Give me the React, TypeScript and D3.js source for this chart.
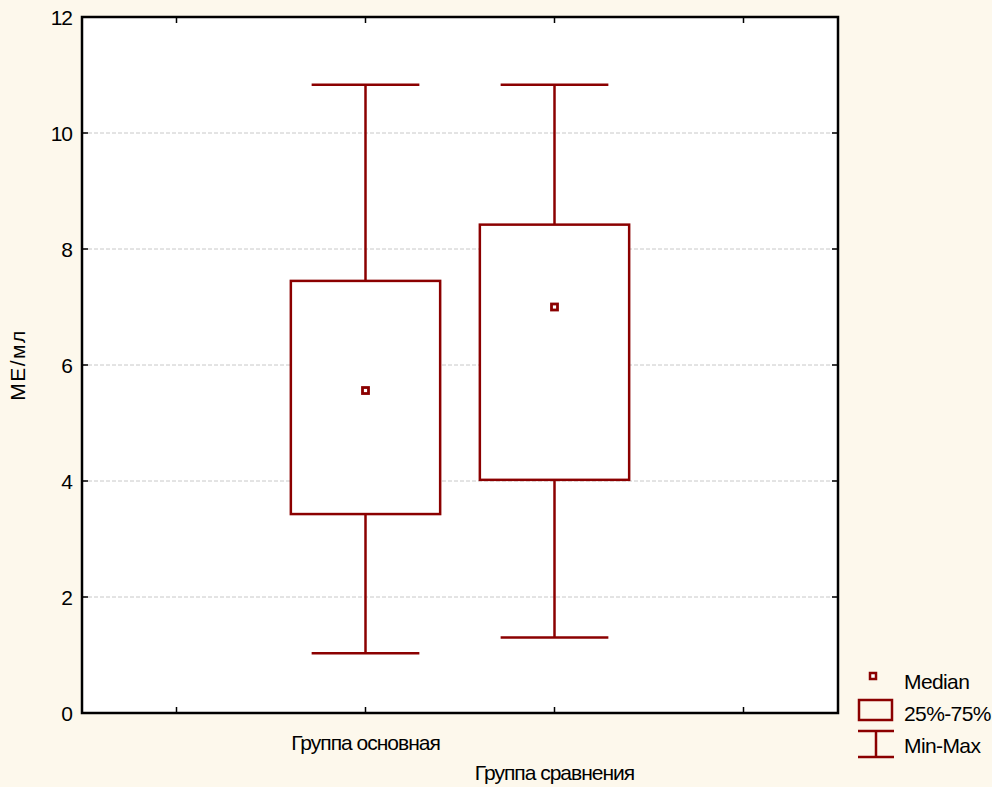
import React, { useEffect, useRef } from "react";
import * as d3 from "d3";

const groups = ["", "Группа основная", "Группа сравнения", ""];
const boxGroups = ["Группа основная", "Группа сравнения"];
const mins = [1.03, 1.3];
const q1s = [3.43, 4.02];
const medians = [5.56, 7.0];
const q3s = [7.45, 8.42];
const maxs = [10.83, 10.83];
const yTicks = [0, 2, 4, 6, 8, 10, 12];
const legendLabels = ["Median", "25%-75%", "Min-Max"];

const W = 992;
const H = 787;
const margin = { top: 17, left: 82, right: 154, bottom: 74 };
const RED = "#8b0000";
const FONT = "'Liberation Sans', Arial, sans-serif";

function BoxChart() {
  const ref = useRef<SVGSVGElement>(null);

  useEffect(() => {
    const svg = d3.select(ref.current);
    svg.selectAll("*").remove();

    const x = d3
      .scaleBand()
      .domain(groups.map((g, i) => i + ""))
      .range([margin.left, W - margin.right]);
    const y = d3
      .scaleLinear()
      .domain([0, 12])
      .range([H - margin.bottom, margin.top]);

    svg.append("rect").attr("width", W).attr("height", H).attr("fill", "#fdf8ec");
    svg
      .append("rect")
      .attr("x", margin.left)
      .attr("y", margin.top)
      .attr("width", W - margin.left - margin.right)
      .attr("height", H - margin.top - margin.bottom)
      .attr("fill", "#fff");

    // grid
    svg
      .append("g")
      .selectAll("line")
      .data(yTicks.slice(1, -1))
      .join("line")
      .attr("x1", margin.left)
      .attr("x2", W - margin.right)
      .attr("y1", (d) => y(d))
      .attr("y2", (d) => y(d))
      .attr("stroke", "#c8c8c8")
      .attr("stroke-dasharray", "4,2")
      .attr("stroke-width", 1);

    const cx = (i: number) => x(i + 1 + "")! + x.bandwidth() / 2;
    const boxW = x.bandwidth() * 0.79;
    const capW = x.bandwidth() * 0.57;

    const g = svg.append("g").attr("stroke", RED).attr("stroke-width", 2.5).attr("fill", "none");
    boxGroups.forEach((name, i) => {
      const c = cx(i);
      g.append("line").attr("x1", c).attr("x2", c).attr("y1", y(maxs[i])).attr("y2", y(q3s[i]));
      g.append("line").attr("x1", c).attr("x2", c).attr("y1", y(q1s[i])).attr("y2", y(mins[i]));
      g.append("line").attr("x1", c - capW / 2).attr("x2", c + capW / 2).attr("y1", y(maxs[i])).attr("y2", y(maxs[i]));
      g.append("line").attr("x1", c - capW / 2).attr("x2", c + capW / 2).attr("y1", y(mins[i])).attr("y2", y(mins[i]));
      g.append("rect")
        .attr("x", c - boxW / 2)
        .attr("y", y(q3s[i]))
        .attr("width", boxW)
        .attr("height", y(q1s[i]) - y(q3s[i]))
        .attr("fill", "#fff");
      g.append("rect")
        .attr("x", c - 3)
        .attr("y", y(medians[i]) - 3)
        .attr("width", 6)
        .attr("height", 6)
        .attr("stroke-width", 2.8)
        .attr("fill", "#fff");
    });

    // frame
    svg
      .append("rect")
      .attr("x", margin.left)
      .attr("y", margin.top)
      .attr("width", W - margin.left - margin.right)
      .attr("height", H - margin.top - margin.bottom)
      .attr("fill", "none")
      .attr("stroke", "#000")
      .attr("stroke-width", 2.5);

    const ticks = svg.append("g").attr("stroke", "#000").attr("stroke-width", 1.5);
    yTicks.slice(1, -1).forEach((t) => {
      ticks.append("line").attr("x1", margin.left).attr("x2", margin.left + 6).attr("y1", y(t)).attr("y2", y(t));
      ticks.append("line").attr("x1", W - margin.right).attr("x2", W - margin.right - 6).attr("y1", y(t)).attr("y2", y(t));
    });
    groups.forEach((_, i) => {
      const px = x(i + "")! + x.bandwidth() / 2;
      ticks.append("line").attr("x1", px).attr("x2", px).attr("y1", H - margin.bottom).attr("y2", H - margin.bottom - 6);
      ticks.append("line").attr("x1", px).attr("x2", px).attr("y1", margin.top).attr("y2", margin.top + 6);
    });

    // y labels
    svg
      .append("g")
      .selectAll("text")
      .data(yTicks)
      .join("text")
      .attr("x", 72)
      .attr("y", (d) => y(d) + 7.5)
      .attr("text-anchor", "end")
      .attr("font-family", FONT)
      .attr("font-size", 21)
      .attr("letter-spacing", -1)
      .text((d) => d);

    // x labels
    groups.forEach((name, i) => {
      if (!name) return;
      svg
        .append("text")
        .attr("x", x(i + "")! + x.bandwidth() / 2)
        .attr("y", i === 1 ? 750 : 780)
        .attr("text-anchor", "middle")
        .attr("font-family", FONT)
        .attr("font-size", 21)
        .attr("letter-spacing", -1)
        .text(name);
    });

    svg
      .append("text")
      .attr("transform", `translate(25, ${y(6)}) rotate(-90)`)
      .attr("text-anchor", "middle")
      .attr("font-family", FONT)
      .attr("font-size", 21)
      .attr("letter-spacing", 1.5)
      .text("МЕ/мл");

    // legend
    const lg = svg.append("g");
    lg.append("rect").attr("x", 870).attr("y", 673).attr("width", 6).attr("height", 6)
      .attr("fill", "#fff").attr("stroke", RED).attr("stroke-width", 2.5);
    lg.append("rect").attr("x", 859).attr("y", 700).attr("width", 33).attr("height", 20)
      .attr("fill", "none").attr("stroke", RED).attr("stroke-width", 2.5);
    lg.append("line").attr("x1", 858).attr("x2", 894).attr("y1", 731).attr("y2", 731).attr("stroke", RED).attr("stroke-width", 2.5);
    lg.append("line").attr("x1", 858).attr("x2", 894).attr("y1", 757).attr("y2", 757).attr("stroke", RED).attr("stroke-width", 2.5);
    lg.append("line").attr("x1", 876).attr("x2", 876).attr("y1", 731).attr("y2", 757).attr("stroke", RED).attr("stroke-width", 2.5);
    legendLabels.forEach((l, i) => {
      lg.append("text")
        .attr("x", 904)
        .attr("y", 689 + i * 32)
        .attr("font-family", FONT)
        .attr("font-size", 21)
        .attr("letter-spacing", -0.6)
        .text(l);
    });
  }, []);

  return <svg ref={ref} width={W} height={H} style={{ display: "block" }} />;
}

export default function App() {
  return (
    <div style={{ position: "absolute", left: 0, top: 0 }}>
      <BoxChart />
    </div>
  );
}
